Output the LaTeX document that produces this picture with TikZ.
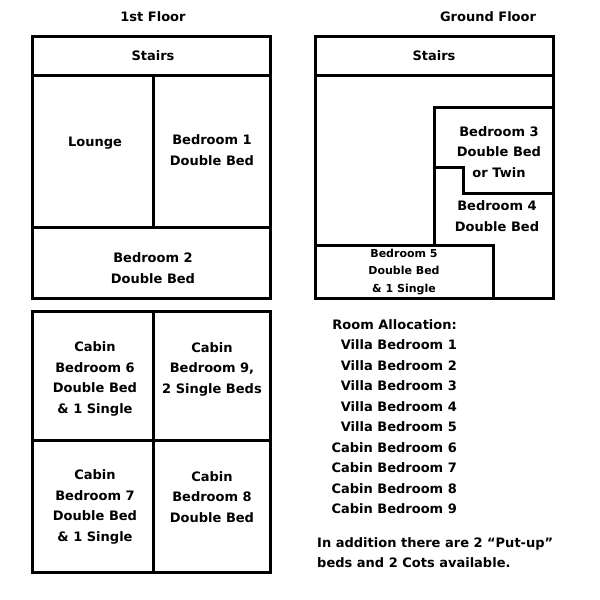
\documentclass[tikz,border=0pt]{standalone}
\usepackage{fontspec}
\setmainfont{DejaVu Sans}
\begin{document}
\begin{tikzpicture}[x=1pt,y=-1pt,
  wall/.style={line width=3pt},
  lbl/.style={font=\bfseries\fontsize{13}{20.5}\selectfont, align=center, inner sep=0pt},
  small/.style={font=\bfseries\fontsize{11}{17.5}\selectfont, align=center, inner sep=0pt}]
\useasboundingbox (0,0) rectangle (600,600);
% Titles
\node[lbl] (t1) at (153,17) {1st Floor};
\node[lbl] (t2) at (488,17) {Ground Floor};
% 1st Floor
\draw[wall] (32,36) rectangle (270,298);
\draw[wall] (32,75) -- (270,75);
\draw[wall] (153,75) -- (153,227);
\draw[wall] (32,227) -- (270,227);
\node[lbl] (s1) at (153,56) {Stairs};
\node[lbl] (lounge) at (95,143) {Lounge};
\node[lbl] (bed1) at (212,150) {Bedroom 1\\Double Bed};
\node[lbl] (bed2) at (153,268) {Bedroom 2\\Double Bed};
% Cabin
\draw[wall] (32,311) rectangle (270,572);
\draw[wall] (153,311) -- (153,572);
\draw[wall] (32,440) -- (270,440);
\node[lbl] (bed6) at (95,379) {Cabin\\Bedroom 6\\Double Bed\\\& 1 Single};
\node[lbl] (bed9) at (212,369) {Cabin\\Bedroom 9,\\2 Single Beds};
\node[lbl] (bed7) at (95,507) {Cabin\\Bedroom 7\\Double Bed\\\& 1 Single};
\node[lbl] (bed8) at (212,497) {Cabin\\Bedroom 8\\Double Bed};
% Ground Floor
\draw[wall] (315,36) rectangle (553,298);
\draw[wall] (315,75) -- (553,75);
\draw[wall] (553,107) -- (434,107) -- (434,245);
\draw[wall] (434,167) -- (463,167) -- (463,193) -- (553,193);
\draw[wall] (315,245) -- (493,245) -- (493,298);
\node[lbl] (s2) at (434,56) {Stairs};
\node[lbl] (bed3) at (499,152) {Bedroom 3\\Double Bed\\or Twin};
\node[lbl] (bed4) at (497,216) {Bedroom 4\\Double Bed};
\node[small] (bed5) at (404,272) {Bedroom 5\\Double Bed\\\& 1 Single};
% Allocation
\node[lbl, anchor=north east, align=right] (alloc) at (457,319)
  {Room Allocation:\\Villa Bedroom 1\\Villa Bedroom 2\\Villa Bedroom 3\\Villa Bedroom 4\\Villa Bedroom 5\\Cabin Bedroom 6\\Cabin Bedroom 7\\Cabin Bedroom 8\\Cabin Bedroom 9};
\node[lbl, anchor=north west, align=left] (extra) at (317,537)
  {In addition there are 2 “Put-up”\\beds and 2 Cots available.};
\end{tikzpicture}
\end{document}
